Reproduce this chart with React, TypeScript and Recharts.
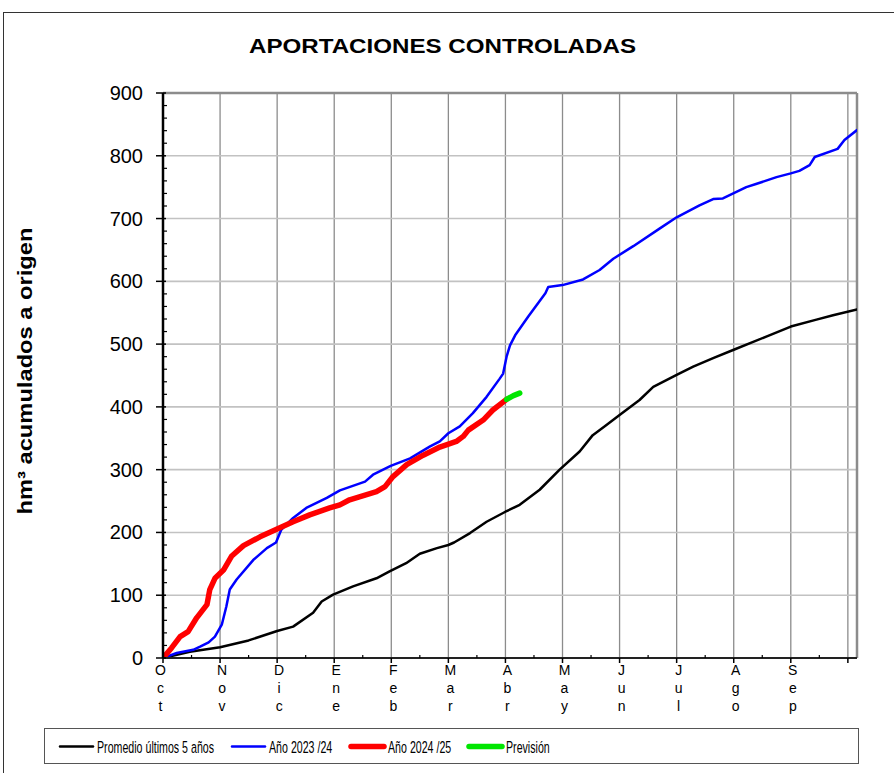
import React from 'react';
import { LineChart, Line, XAxis, YAxis, CartesianGrid, ReferenceLine, Legend } from 'recharts';

// month index (0 = 1 Oct) -> hm3 accumulated
const MONTHS = ['Oct', 'Nov', 'Dic', 'Ene', 'Feb', 'Mar', 'Abr', 'May', 'Jun', 'Jul', 'Ago', 'Sep'];
const X_MAX = 12.16;
const X_TICKS = [0, 0.5, 1, 1.5, 2, 2.5, 3, 3.5, 4, 4.5, 5, 5.5, 6, 6.5, 7, 7.5, 8, 8.5, 9, 9.5, 10, 10.5, 11, 11.5, 12];
const Y_LABELS = [0, 100, 200, 300, 400, 500, 600, 700, 800, 900];
const Y_TICKS = Array.from({ length: 46 }, (_, i) => i * 20);
const MONTH_LINES = [1, 2, 3, 4, 5, 6, 7, 8, 9, 10, 11, 12];
const VALUE_LINES = [100, 200, 300, 400, 500, 600, 700, 800];

const promedio: [number, number][] = [
  [0, 0], [0.47, 10], [1.0, 17], [1.5, 28], [2.0, 43], [2.28, 50], [2.63, 72], [2.78, 90],
  [2.98, 101], [3.33, 114], [3.74, 127], [3.97, 138], [4.26, 151], [4.5, 166], [4.8, 175],
  [5.0, 180], [5.1, 184], [5.38, 199], [5.67, 217], [6.0, 233], [6.25, 244], [6.6, 268],
  [6.95, 300], [7.3, 329], [7.53, 355], [7.77, 371], [8.0, 387], [8.35, 411], [8.59, 432],
  [9.0, 451], [9.29, 464], [9.65, 478], [10.0, 491], [10.57, 512], [11.0, 528], [11.45, 539],
  [11.74, 546], [12.16, 555],
];

const anio2324: [number, number][] = [
  [0, 0], [0.24, 8], [0.53, 13], [0.65, 18], [0.8, 25], [0.91, 34], [1.03, 53], [1.11, 82],
  [1.17, 109], [1.29, 125], [1.58, 156], [1.82, 175], [1.98, 184], [2.07, 204], [2.28, 223],
  [2.51, 239], [2.87, 255], [3.1, 267], [3.54, 281], [3.68, 292], [3.99, 306], [4.33, 318],
  [4.68, 337], [4.85, 345], [5.0, 358], [5.2, 369], [5.43, 390], [5.67, 416], [5.9, 445],
  [5.96, 453], [6.02, 480], [6.08, 498], [6.17, 514], [6.4, 544], [6.7, 581], [6.75, 591],
  [7.0, 594], [7.36, 603], [7.65, 618], [7.89, 636], [8.24, 656], [8.7, 684], [9.0, 702],
  [9.4, 721], [9.64, 731], [9.81, 732], [10.22, 750], [10.39, 755], [10.75, 766], [11.0, 772],
  [11.15, 776], [11.33, 785], [11.42, 798], [11.82, 811], [11.94, 825], [12.16, 841],
];

const anio2425: [number, number][] = [
  [0, 0], [0.15, 16], [0.3, 34], [0.44, 42], [0.59, 64], [0.77, 85], [0.82, 109], [0.91, 127],
  [1.06, 140], [1.2, 162], [1.41, 179], [1.7, 193], [1.99, 205], [2.28, 217], [2.57, 228],
  [2.92, 239], [3.1, 244], [3.27, 252], [3.74, 265], [3.89, 273], [4.03, 289], [4.27, 308],
  [4.56, 323], [4.85, 336], [5.14, 345], [5.26, 353], [5.35, 363], [5.61, 379], [5.78, 395],
  [6.02, 412],
];

const prevision: [number, number][] = [[6.02, 412], [6.14, 418], [6.25, 422]];

const SERIES = [
  { name: 'Promedio últimos 5 años', points: promedio, color: '#000000', width: 2.5, textLen: 118 },
  { name: 'Año 2023 /24', points: anio2324, color: '#0000ff', width: 2.5, textLen: 65 },
  { name: 'Año 2024 /25', points: anio2425, color: '#ff0000', width: 5.5, textLen: 64 },
  { name: 'Previsión', points: prevision, color: '#00e600', width: 5.5, textLen: 44 },
];

const FONT = '"Liberation Sans", Arial, sans-serif';

const MonthTick = (props: any) => {
  const { x, y, payload } = props;
  const v = payload.value;
  const major = Number.isInteger(v);
  const idx = Math.round(v);
  const label = major && idx < MONTHS.length ? MONTHS[idx] : '';
  const lx = idx === 0 ? x - 2.5 : x + 2;
  return (
    <g>
      {major
        ? <line x1={x} x2={x} y1={y} y2={y + 5} stroke="#000" strokeWidth={1.5} />
        : <line x1={x} x2={x} y1={y} y2={y - 3} stroke="#000" strokeWidth={1.2} />}
      {label.split('').map((ch, i) => (
        <text key={i} x={lx} y={y + 17 + i * 18} textAnchor="middle" fontSize={14} fontFamily={FONT} fill="#000">
          {ch}
        </text>
      ))}
    </g>
  );
};

const ValueTick = (props: any) => {
  const { x, y, payload } = props;
  const v = payload.value;
  const major = Y_LABELS.includes(v);
  return (
    <g>
      {major
        ? <line x1={x - 7} x2={x + 3} y1={y} y2={y} stroke="#000" strokeWidth={1.5} />
        : <line x1={x} x2={x + 4} y1={y} y2={y} stroke="#000" strokeWidth={1.2} />}
      {major && (
        <text x={x - 20} y={y + 7} textAnchor="end" fontSize={20} fontFamily={FONT} fill="#000">
          {v}
        </text>
      )}
    </g>
  );
};

// legend text in the original is horizontally squeezed
const LegendBox = () => {
  let cx = 16;
  return (
    <svg width={816} height={37} style={{ display: 'block' }}>
      <rect x={0.5} y={0.5} width={814} height={35} fill="#fff" stroke="#555" strokeWidth={1} />
      {SERIES.map((s) => {
        const x0 = cx;
        cx += 33 + 4 + s.textLen + 17;
        return (
          <g key={s.name}>
            <line x1={x0} x2={x0 + 33} y1={18.5} y2={18.5} stroke={s.color} strokeWidth={s.width} strokeLinecap="round" />
            <text
              transform={`translate(${x0 + 37},24.5) scale(0.645,1)`}
              fontSize={16.5}
              fontFamily={FONT}
              fill="#000"
            >
              {s.name}
            </text>
          </g>
        );
      })}
    </svg>
  );
};

export default function App() {
  return (
    <div style={{ position: 'relative', width: 894, height: 773, overflow: 'hidden', background: '#fff' }}>
      <style>{'body{margin:0}'}</style>
      <svg width={894} height={773} style={{ position: 'absolute', left: 0, top: 0 }}>
        <line x1={3} x2={894} y1={12.5} y2={12.5} stroke="#333" strokeWidth={1} />
        <line x1={3.5} x2={3.5} y1={12} y2={773} stroke="#333" strokeWidth={1} />
        <text x={442.5} y={53} textAnchor="middle" fontSize={21} fontWeight="bold" fontFamily={FONT} textLength={387} lengthAdjust="spacingAndGlyphs">
          APORTACIONES CONTROLADAS
        </text>
        <text x={0} y={0} transform="translate(32,371) rotate(-90)" textAnchor="middle" fontSize={21} fontWeight="bold" fontFamily={FONT} textLength={287} lengthAdjust="spacingAndGlyphs">
          hm³ acumulados a origen
        </text>
      </svg>
      <div style={{ position: 'absolute', left: 0, top: 0 }}>
        <LineChart width={894} height={773} margin={{ top: 93, right: 37, bottom: 55, left: 103 }}>
          <CartesianGrid horizontal={false} verticalValues={MONTH_LINES} stroke="#8c8c8c" strokeWidth={1.3} />
          <CartesianGrid vertical={false} horizontalValues={VALUE_LINES} stroke="#c2c2c2" strokeWidth={1.6} />
          <ReferenceLine y={900} stroke="#8c8c8c" strokeWidth={2.5} />
          <ReferenceLine x={X_MAX} stroke="#8c8c8c" strokeWidth={2.5} />
          <XAxis
            type="number"
            dataKey="m"
            domain={[0, X_MAX]}
            ticks={X_TICKS}
            interval={0}
            tickSize={0}
            tickMargin={0}
            tick={<MonthTick />}
            height={60}
            axisLine={{ stroke: '#222', strokeWidth: 2.2 }}
            allowDataOverflow
          />
          <YAxis
            type="number"
            domain={[0, 900]}
            ticks={Y_TICKS}
            interval={0}
            tickSize={0}
            tickMargin={0}
            tick={<ValueTick />}
            width={60}
            axisLine={{ stroke: '#000', strokeWidth: 2.5 }}
            allowDataOverflow
          />
          {SERIES.map((s) => (
            <Line
              key={s.name}
              name={s.name}
              data={s.points.map(([m, v]) => ({ m, v }))}
              dataKey="v"
              type="linear"
              stroke={s.color}
              strokeWidth={s.width}
              dot={false}
              activeDot={false}
              strokeLinejoin="round"
              strokeLinecap="round"
              isAnimationActive={false}
            />
          ))}
          <Legend
            verticalAlign="middle"
            align="center"
            layout="horizontal"
            wrapperStyle={{ left: 44, top: 728, width: 816, height: 37 }}
            content={<LegendBox />}
          />
        </LineChart>
      </div>
    </div>
  );
}
